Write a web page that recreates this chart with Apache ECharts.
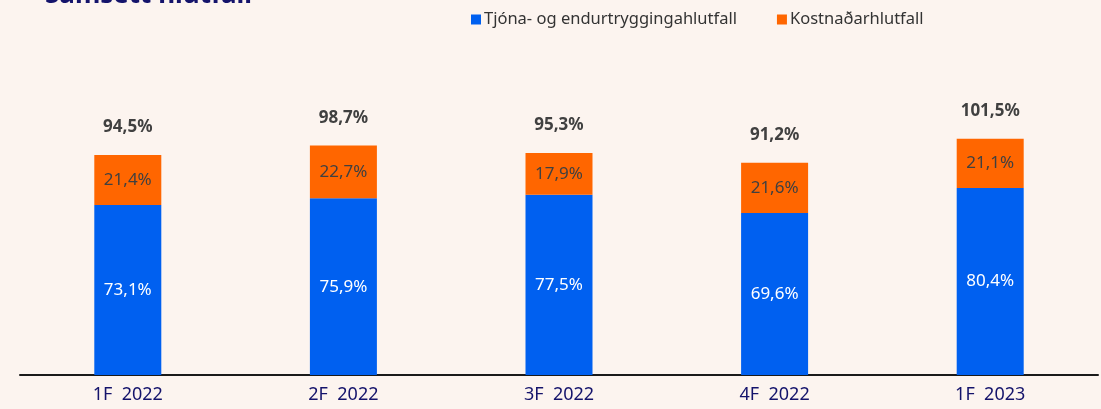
<!DOCTYPE html>
<html>
<head>
<meta charset="utf-8">
<script src="https://cdn.jsdelivr.net/npm/echarts@6/dist/echarts.min.js"></script>
<style>
  html, body { margin: 0; padding: 0; background: #fcf4ef; }
  #chart { width: 1101px; height: 409px; }
</style>
</head>
<body>
<div id="chart"></div>
<script>
// gögn
var categories = ['1F  2022', '2F  2022', '3F  2022', '4F  2022', '1F  2023']
var tjonaHlutfall = [73.1, 75.9, 77.5, 69.6, 80.4]
var kostnadarHlutfall = [21.4, 22.7, 17.9, 21.6, 21.1]
var samsett = [94.5, 98.7, 95.3, 91.2, 101.5]

function pct(v) {
  return v.toFixed(1).replace('.', ',') + '%'
}

var chart = echarts.init(document.getElementById('chart'))
chart.setOption({
  backgroundColor: '#fcf4ef',
  animation: false,
  title: {
    text: 'Samsett hlutfall',
    left: 40,
    top: -22,
    textStyle: { color: '#14136b', fontSize: 26, fontWeight: 'bold', fontFamily: 'Noto Sans' }
  },
  legend: {
    top: 6,
    left: 466,
    itemWidth: 10,
    itemHeight: 10,
    itemGap: 40,
    icon: 'rect',
    textStyle: { color: '#333', fontSize: 16.5, fontFamily: 'Noto Sans', padding: [0, 0, 0, -2] },
    data: ['Tjóna- og endurtryggingahlutfall', 'Kostnaðarhlutfall']
  },
  grid: { left: 20, right: 3, top: 119, bottom: 34 },
  xAxis: {
    type: 'category',
    data: categories,
    axisTick: { show: false },
    axisLine: { lineStyle: { color: '#1a1a1a', width: 2 } },
    axisLabel: { color: '#14136b', fontSize: 18, fontFamily: 'Noto Sans', margin: 11 }
  },
  yAxis: {
    type: 'value',
    min: 0,
    max: 110,
    show: false,
    splitLine: { show: false }
  },
  series: [
    {
      name: 'Tjóna- og endurtryggingahlutfall',
      type: 'bar',
      stack: 'a',
      barWidth: 67,
      itemStyle: { color: '#0060f0' },
      label: {
        show: true,
        position: 'inside',
        color: '#fff',
        fontSize: 17,
        fontFamily: 'Noto Sans',
        formatter: function (p) { return pct(p.value) }
      },
      data: tjonaHlutfall
    },
    {
      name: 'Kostnaðarhlutfall',
      type: 'bar',
      stack: 'a',
      itemStyle: { color: '#ff6600' },
      label: {
        show: true,
        position: 'inside',
        color: '#404040',
        fontSize: 17,
        fontFamily: 'Noto Sans',
        formatter: function (p) { return pct(p.value) }
      },
      data: kostnadarHlutfall
    },
    {
      name: 'samtals',
      type: 'bar',
      stack: 'a',
      silent: true,
      itemStyle: { color: 'transparent' },
      label: {
        show: true,
        position: 'top',
        distance: 19,
        color: '#404040',
        fontSize: 17,
        fontWeight: 'bold',
        fontFamily: 'Noto Sans',
        formatter: function (p) { return pct(samsett[p.dataIndex]) }
      },
      data: samsett.map(function () { return 0 })
    }
  ]
})
</script>
</body>
</html>
